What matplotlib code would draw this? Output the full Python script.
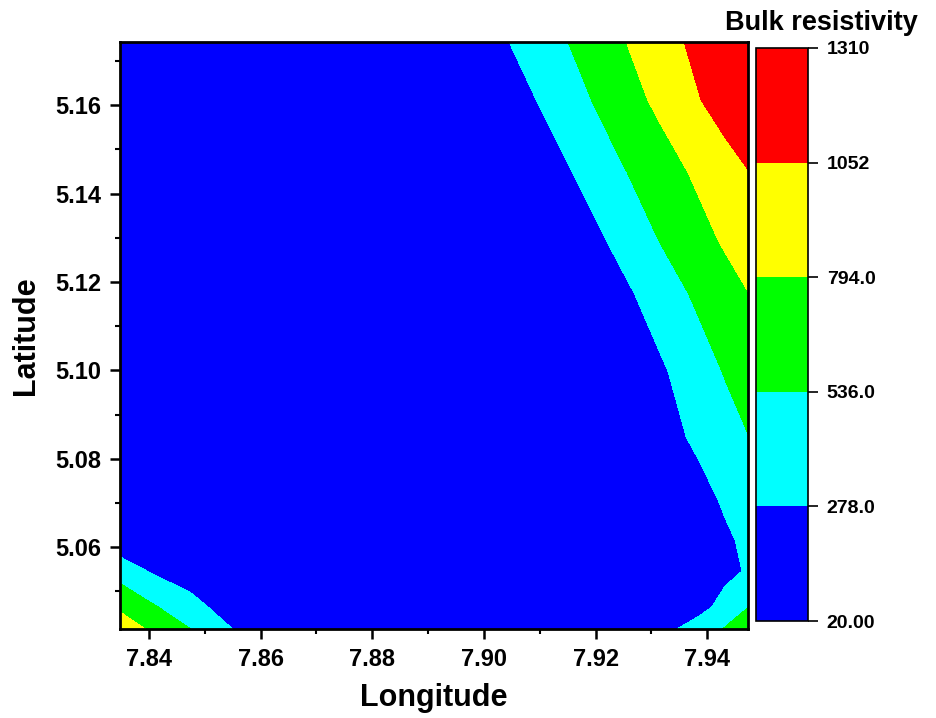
import numpy as np
import matplotlib
matplotlib.use("Agg")
import matplotlib.pyplot as plt
from matplotlib.colors import ListedColormap, BoundaryNorm
from matplotlib.ticker import MultipleLocator

plt.rcParams['font.family'] = ['Liberation Sans', 'DejaVu Sans']
plt.rcParams['font.weight'] = 'bold'

# ---- data ----
longitude = [7.8348, 7.8402, 7.8473, 7.8552, 7.8724, 7.8921, 7.9029,
             7.9101, 7.9172, 7.9244, 7.9316, 7.9387, 7.9432, 7.9473]
latitude = [5.1743, 5.1612, 5.1449, 5.1295, 5.1175, 5.0997, 5.0850,
            5.0707, 5.0617, 5.0546, 5.0465, 5.0415]
resistivity = [
    [60, 60, 60, 60, 80, 120, 239, 413, 589, 767, 945, 1123, 1200, 1300],
    [60, 60, 60, 60, 70, 90, 109, 297, 484, 667, 852, 1047, 1160, 1260],
    [60, 60, 60, 60, 70, 80, 100, 125, 316, 507, 677, 846, 953, 1045],
    [60, 60, 60, 60, 70, 80, 90, 110, 149, 347, 545, 717, 824, 923],
    [60, 60, 60, 60, 70, 80, 90, 100, 130, 210, 405, 591, 697, 790],
    [50, 50, 50, 50, 60, 70, 80, 90, 110, 150, 240, 431, 550, 660],
    [50, 50, 50, 50, 50, 60, 70, 80, 100, 120, 170, 336, 440, 530],
    [60, 55, 50, 50, 50, 55, 60, 70, 85, 100, 130, 193, 311, 420],
    [103, 80, 60, 50, 50, 50, 55, 60, 70, 85, 110, 150, 238, 330],
    [422, 262, 150, 100, 60, 50, 50, 55, 60, 75, 100, 130, 210, 302],
    [751, 577, 369, 146, 80, 50, 50, 55, 60, 70, 110, 192, 372, 530],
    [939, 765, 540, 270, 100, 50, 50, 55, 60, 80, 181, 410, 553, 685],
]
levels = [20.0, 278.0, 536.0, 794.0, 1052.0, 1310.0]
level_labels = ['20.00', '278.0', '536.0', '794.0', '1052', '1310']
level_colors = ['#0000FF', '#00FFFF', '#00FF00', '#FFFF00', '#FF0000']
x_ticks = [7.84, 7.86, 7.88, 7.90, 7.92, 7.94]
y_ticks = [5.06, 5.08, 5.10, 5.12, 5.14, 5.16]

X, Y = np.meshgrid(longitude, latitude)
Z = np.array(resistivity, dtype=float)

fig = plt.figure(figsize=(9.36, 7.18), dpi=100)
ax = fig.add_axes([120/936, 1-629/718, (748-120)/936, (629-42)/718])
cax = fig.add_axes([756/936, 1-621/718, 52/936, (621-48)/718])

cmap = ListedColormap(level_colors)
norm = BoundaryNorm(levels, cmap.N)
cf = ax.contourf(X, Y, Z, levels=levels, cmap=cmap, norm=norm, antialiased=False)

ax.set_xlim(longitude[0], longitude[-1])
ax.set_ylim(latitude[-1], latitude[0])
ax.set_xticks(x_ticks)
ax.set_xticklabels([f"{v:.2f}" for v in x_ticks])
ax.set_yticks(y_ticks)
ax.set_yticklabels([f"{v:.2f}" for v in y_ticks])
ax.xaxis.set_minor_locator(MultipleLocator(0.01))
ax.yaxis.set_minor_locator(MultipleLocator(0.01))
ax.tick_params(which='major', direction='out', length=7.5, width=1.8, labelsize=17, pad=6)
ax.tick_params(which='minor', direction='out', length=3.5, width=1.5)
for lab in ax.get_xticklabels() + ax.get_yticklabels():
    lab.set_fontweight('bold')
for s in ax.spines.values():
    s.set_linewidth(2.0)
ax.set_xlabel('Longitude', fontsize=22, fontweight='bold', labelpad=9)
ax.set_ylabel('Latitude', fontsize=22, fontweight='bold', labelpad=10)

cb = fig.colorbar(cf, cax=cax, orientation='vertical')
cb.set_ticks(levels)
cb.set_ticklabels(level_labels)
cb.ax.tick_params(direction='out', length=7.5, width=1.2, labelsize=14, pad=6)
for lab in cb.ax.get_yticklabels():
    lab.set_fontweight('bold')
cb.outline.set_linewidth(1.2)
cb.ax.minorticks_off()
fig.text(821/936, 1-23/718, 'Bulk resistivity', ha='center', va='center',
         fontsize=19.5, fontweight='bold')

fig.savefig('out.png', dpi=100)
